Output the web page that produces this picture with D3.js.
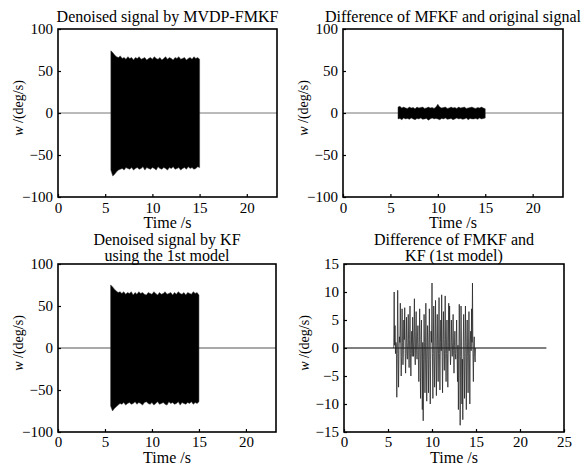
<!DOCTYPE html>
<html>
<head>
<meta charset="utf-8">
<script src="https://cdn.jsdelivr.net/npm/d3@7"></script>
<style>
  body { margin: 0; background: #fff; }
  text { font-family: "Liberation Serif", "Times New Roman", serif; fill: #000; }
</style>
</head>
<body>
<div id="chart"></div>
<script>
const mvdpStart = 5.6, mvdpStep = 0.2;
const mvdpUpper = [74, 72, 69, 67, 66, 68, 65, 66, 64, 67, 65, 66, 63, 66, 65, 67, 64, 65, 66, 63,
                   65, 66, 64, 67, 65, 64, 66, 63, 65, 67, 64, 66, 65, 63, 66, 65, 67, 64, 65, 66,
                   63, 65, 66, 64, 67, 65, 66, 64];
const mvdpLower = [-68, -75, -73, -70, -68, -67, -66, -68, -65, -66, -67, -65, -68, -66, -65, -67, -66, -64, -68, -65,
                   -66, -67, -65, -66, -68, -64, -66, -67, -65, -66, -68, -65, -66, -64, -67, -66, -65, -68, -66, -65,
                   -67, -64, -66, -65, -67, -66, -64, -65];

const diffStart = 5.8, diffStep = 0.2;
const diffUpper = [7, 8, 6, 7, 6, 5.5, 7, 6, 6.5, 5, 7, 6, 6.5, 7, 5.5, 6, 7, 6, 6.5, 5.5,
                   7, 10.5, 7, 6, 6.5, 7, 5.5, 6, 7, 6, 6.5, 5.5, 7, 6, 6.5, 7, 5.5, 6, 6.5, 7,
                   6, 5.5, 6.5, 6, 7, 6, 5];
const diffLower = [-7, -6.5, -8, -6, -7, -6.5, -7.5, -6, -7, -8, -6.5, -7, -6, -7.5, -7, -6.5, -8.5, -7, -6, -7,
                   -6.5, -7, -8, -6.5, -7, -6, -7.5, -7, -6.5, -8, -7, -6, -7, -6.5, -7.5, -7, -6, -8, -6.5, -7,
                   -7, -6.5, -7.5, -6, -7, -6.5, -6];

const kfStart = 5.6, kfStep = 0.2;
const kfUpper = [75, 73, 70, 68, 66, 67, 65, 67, 64, 66, 65, 67, 63, 66, 64, 67, 65, 66, 64, 63,
                 66, 65, 64, 67, 65, 63, 66, 64, 65, 67, 64, 65, 66, 63, 66, 64, 67, 65, 64, 66,
                 63, 66, 65, 64, 67, 65, 66, 63];
const kfLower = [-69, -75, -72, -70, -68, -66, -67, -65, -68, -66, -65, -67, -66, -64, -67, -65, -66, -68, -65, -64,
                 -66, -67, -65, -68, -66, -64, -67, -66, -65, -67, -68, -64, -66, -65, -67, -66, -64, -68, -65, -66,
                 -67, -65, -66, -64, -67, -65, -66, -64];

// Difference FMKF - KF, sampled every 0.05 s from 5.6 s
const fkStart = 5.6, fkStep = 0.05;
const fkValues = [
  0, 0.3, 10, 0.5, 4, -1, 1, 0.5, -8.8, -1, 10.3, 1.5, -7, -0.5, 2, 1, 8, 0.5, -5, -1.5,
  7, 1, -3, -0.5, 5, 1.5, 7.2, -1, -4.5, 0.5, 5.5, -1, -2, 1, 6, -0.5, -3.5, 1.5, 7.5, -1,
  -5, 0.5, 3, -1.5, 5.5, 1, -1.5, 2.5, 8.8, -1, -3, 3, 6.5, -0.5, -2, 2, 4, -1.5, -6, 1,
  7, -2, -9, 1.5, 5, -2.5, -11, 1, -13, -2, 6, 1, -8, -3, 8, 0.5, -9.5, -2, 4, 1,
  -8, -1.5, 7, 0.5, -10, -2, 3, 1, 11.6, -1, -9, 0.5, 7.5, -1.5, -7, 1, 8.5, -0.5, -8.5, 1.5,
  6, -1, -6, 0.5, 9, -1, -7.5, 1, 5, -0.5, 9.5, -1.5, -8, 1, 6.5, -0.5, -4, 1.5, 9.3, -1,
  -6, 0.5, 5, -1, -7, 1, 8, -0.5, 7.5, 0.5, -3, -1, 5, 0.5, -1.5, 1, 6, -0.5, -4.5, 0.5,
  3, -1, -2, 0.5, 5, -1, -6, 0.5, -11, -2, 7.8, 1, -13.8, -1.5, 7.5, 0.5, -10, -2, -12.8, 1,
  6, -1.5, -9, 0.5, 7.5, -1, -11, 1, 5, -1.5, -8, 0.5, 6.5, -1, -10, 1, 3, -0.5, 7, 1,
  11.6, -1, -6, 0.5, 2, -1.5, -2.5, 0
];

// quiet (zero) parts of each record: [start, end] in seconds
const quietSpan = [0, 23.2];
const quietSpanFk = [0, 23];

const ticksX = [0, 5, 10, 15, 20];
const ticksX4 = [0, 5, 10, 15, 20, 25];
const ticksY = [-100, -50, 0, 50, 100];
const ticksY4 = [-15, -10, -5, 0, 5, 10, 15];

const serif = "Liberation Serif, Times New Roman, serif";

const svg = d3.select("#chart").append("svg")
  .attr("width", 581).attr("height", 466);

function envelope(start, step, upper, lower) {
  return upper.map((u, i) => ({ t: start + i * step, hi: u, lo: lower[i] }));
}

function drawPanel(p) {
  const x = d3.scaleLinear().domain(p.xDomain).range([p.left, p.right]);
  const y = d3.scaleLinear().domain(p.yDomain).range([p.bottom, p.top]);
  const g = svg.append("g");

  // zero line outside the burst
  g.append("path")
    .datum(p.quiet)
    .attr("fill", "none")
    .attr("stroke", p.quietColor)
    .attr("stroke-width", 1)
    .attr("d", d3.line().x(d => x(d)).y(() => y(0)));

  if (p.env) {
    g.append("path")
      .datum(p.env)
      .attr("fill", "#000")
      .attr("stroke", "#333")
      .attr("stroke-width", 0.5)
      .attr("d", d3.area().x(d => x(d.t)).y0(d => y(d.lo)).y1(d => y(d.hi)));
  }
  if (p.series) {
    g.append("path")
      .datum(p.series)
      .attr("fill", "none")
      .attr("stroke", "#222")
      .attr("stroke-width", 0.75)
      .attr("d", d3.line().x(d => x(d.t)).y(d => y(d.v)));
  }

  const xAxis = g.append("g")
    .attr("transform", `translate(0,${p.bottom})`)
    .call(d3.axisBottom(x).tickValues(p.xTicks).tickSize(-3).tickSizeOuter(0).tickPadding(p.padX));
  const yAxis = g.append("g")
    .attr("transform", `translate(${p.left},0)`)
    .call(d3.axisLeft(y).tickValues(p.yTicks).tickSize(-3).tickSizeOuter(0).tickPadding(5));
  [xAxis, yAxis].forEach(a => {
    a.attr("font-family", serif).attr("font-size", 15);
    a.select(".domain").remove();
    a.selectAll(".tick line").attr("stroke", "#000").attr("stroke-width", 1.2);
  });

  g.append("rect")
    .attr("x", p.left).attr("y", p.top)
    .attr("width", p.right - p.left).attr("height", p.bottom - p.top)
    .attr("fill", "none").attr("stroke", "#000").attr("stroke-width", 1.6);

  // title
  const cx = (p.left + p.right) / 2;
  p.title.forEach((line, i) => {
    g.append("text")
      .attr("x", cx).attr("y", p.titleY + i * 16)
      .attr("text-anchor", "middle")
      .style("font-size", "16px")
      .text(line);
  });

  g.append("text")
    .attr("x", cx).attr("y", p.bottom + p.labelGap)
    .attr("text-anchor", "middle")
    .style("font-size", "16px")
    .text("Time /s");

  const yl = g.append("text")
    .attr("transform", `translate(${p.left - 35},${(p.top + p.bottom) / 2 - 5}) rotate(-90)`)
    .attr("text-anchor", "middle")
    .style("font-size", "14px");
  yl.append("tspan").style("font-style", "italic").text("w");
  yl.append("tspan").text(" /(deg/s)");
}

drawPanel({
  left: 58, right: 277, top: 29, bottom: 197,
  xDomain: [0, 23.2], yDomain: [-100, 100], xTicks: ticksX, yTicks: ticksY,
  title: ["Denoised signal by MVDP-FMKF"], titleY: 22,
  quiet: quietSpan, quietColor: "#777", padX: 5, labelGap: 31,
  env: envelope(mvdpStart, mvdpStep, mvdpUpper, mvdpLower)
});

drawPanel({
  left: 343, right: 563, top: 29, bottom: 197,
  xDomain: [0, 23.2], yDomain: [-100, 100], xTicks: ticksX, yTicks: ticksY,
  title: ["Difference of MFKF and original signal"], titleY: 22,
  quiet: quietSpan, quietColor: "#777", padX: 5, labelGap: 31,
  env: envelope(diffStart, diffStep, diffUpper, diffLower)
});

drawPanel({
  left: 58, right: 276, top: 264, bottom: 432,
  xDomain: [0, 23.2], yDomain: [-100, 100], xTicks: ticksX, yTicks: ticksY,
  title: ["Denoised signal by KF", "using the 1st model"], titleY: 245,
  quiet: quietSpan, quietColor: "#555", padX: 4, labelGap: 31,
  env: envelope(kfStart, kfStep, kfUpper, kfLower)
});

drawPanel({
  left: 344, right: 564, top: 264, bottom: 432,
  xDomain: [0, 25], yDomain: [-15, 15], xTicks: ticksX4, yTicks: ticksY4,
  title: ["Difference of FMKF and", "KF (1st model)"], titleY: 245,
  quiet: quietSpanFk, quietColor: "#000", padX: 4, labelGap: 31,
  series: fkValues.map((v, i) => ({ t: fkStart + i * fkStep, v: v }))
});
</script>
</body>
</html>
